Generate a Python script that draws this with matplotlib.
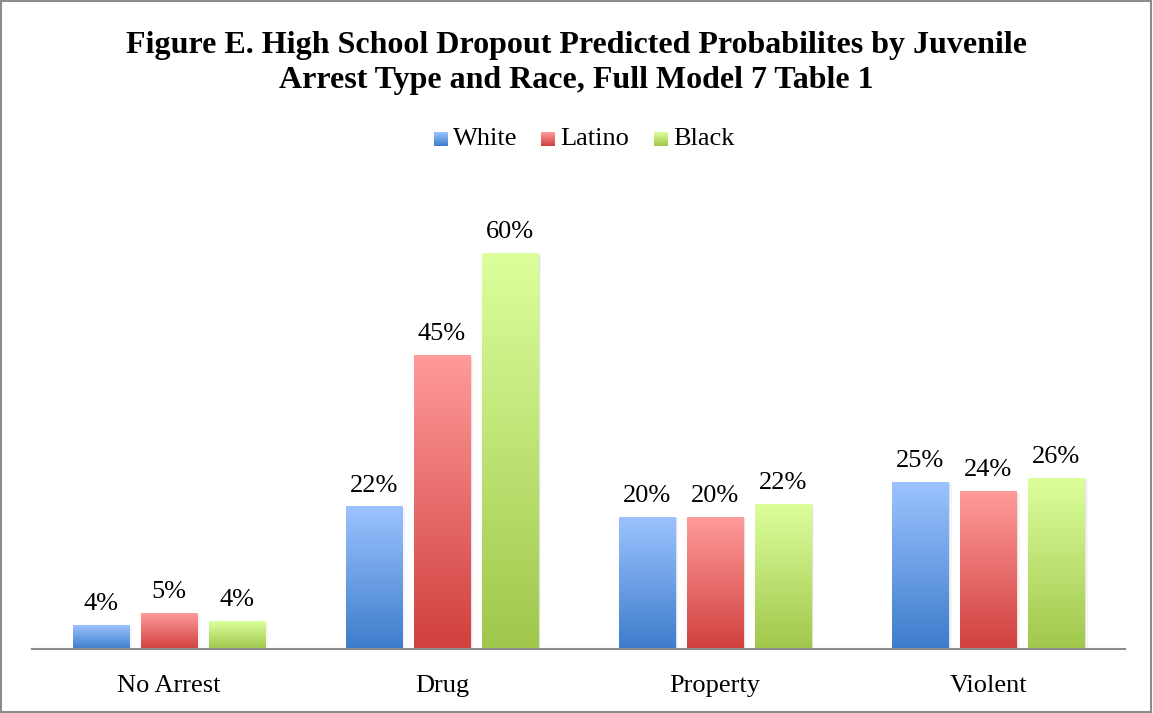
import numpy as np
import matplotlib.pyplot as plt
from matplotlib.colors import LinearSegmentedColormap
from matplotlib.patches import Rectangle

plt.rcParams['font.family'] = ['Liberation Serif', 'DejaVu Serif']

categories = ['No Arrest', 'Drug', 'Property', 'Violent']
races = ['White', 'Latino', 'Black']
white = [3.6, 21.6, 20.0, 25.3]
latino = [5.4, 44.6, 20.0, 23.9]
black = [4.2, 60.0, 22.0, 25.9]

# (top colour, bottom colour) for each race's bar gradient
shades = {
    'White': ('#9cc3ff', '#3d7ccb'),
    'Latino': ('#ff9b9a', '#d0403e'),
    'Black': ('#dcff9c', '#a0c74c'),
}

fig = plt.figure(figsize=(11.53, 7.13), dpi=100)
ax = fig.add_axes([32 / 1153, 64 / 713, 1093 / 1153, 462 / 713])

x = np.arange(len(categories))
width = 0.205
step = 0.249


def gradient_bar(ax, xc, h, top, bottom):
    cmap = LinearSegmentedColormap.from_list('g', [bottom, top])
    left = xc - width / 2
    # soft drop shadow on the right side
    for off, a in [(0.006, 0.07), (0.012, 0.04)]:
        ax.add_patch(Rectangle((left + off, 0), width, h - 0.2, color='#000000',
                               alpha=a, lw=0, zorder=1))
    grad = np.linspace(0, 1, 256).reshape(-1, 1)
    im = ax.imshow(grad, cmap=cmap, origin='lower', aspect='auto',
                   extent=(left, left + width, 0, h), zorder=2)
    clip = Rectangle((left, 0), width, h, transform=ax.transData,
                     facecolor='none', edgecolor='none')
    ax.add_patch(clip)
    im.set_clip_path(clip)
    ax.text(xc, h + 1.5, f'{h:.0f}%', ha='center', va='bottom', fontsize=19)


for i, (name, vals) in enumerate(zip(races, [white, latino, black])):
    top, bottom = shades[name]
    for xi, v in zip(x, vals):
        gradient_bar(ax, xi + (i - 1) * step, v, top, bottom)

ax.set_xlim(-0.5, 3.5)
ax.set_ylim(0, 70)
ax.set_yticks([])
ax.set_xticks(x)
ax.set_xticklabels(categories, fontsize=19)
ax.tick_params(axis='x', length=0, pad=19)
for s in ['top', 'right', 'left']:
    ax.spines[s].set_visible(False)
ax.spines['bottom'].set_color('#8c8c8c')
ax.spines['bottom'].set_linewidth(1.5)

fig.text(0.5, 1 - 63 / 713, 'Figure E. High School Dropout Predicted Probabilites by Juvenile\n'
         'Arrest Type and Race, Full Model 7 Table 1',
         ha='center', va='center', fontsize=23, fontweight='bold', linespacing=1.3)

# legend with small gradient squares
lx = [434, 541, 654]
for name, px in zip(races, lx):
    top, bottom = shades[name]
    lax = fig.add_axes([px / 1153, 1 - 146 / 713, 14 / 1153, 14 / 713])
    lax.imshow(np.linspace(0, 1, 64).reshape(-1, 1), origin='lower', aspect='auto',
               cmap=LinearSegmentedColormap.from_list('l', [bottom, top]))
    lax.axis('off')
    fig.text((px + 19) / 1153, 1 - 139 / 713, name, ha='left', va='center', fontsize=19)

fig.patches.append(Rectangle((0.001, 0.002), 0.997, 0.996, transform=fig.transFigure,
                             fill=False, edgecolor='#8c8c8c', lw=1.5))

fig.savefig('out.png', dpi=100)
